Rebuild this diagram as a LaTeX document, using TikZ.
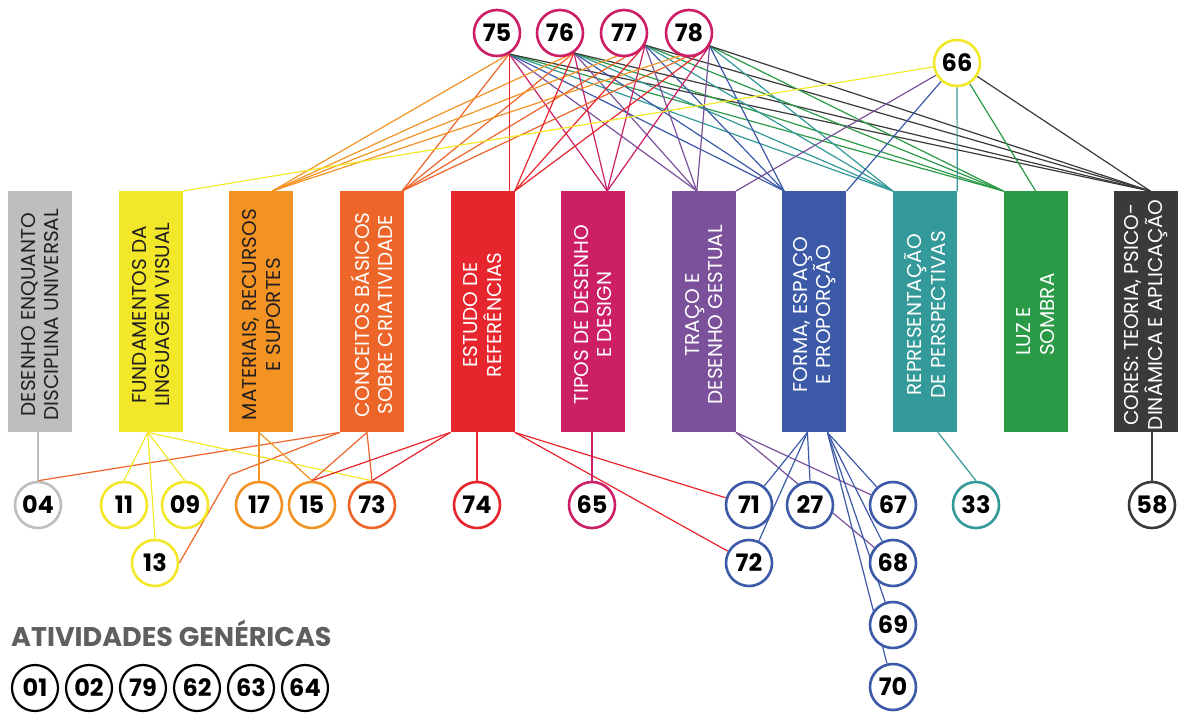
\documentclass[tikz,border=0pt]{standalone}
\usepackage{fontspec}
\setmainfont{Poppins}
\usetikzlibrary{calc}
\pgfdeclarelayer{bg}
\pgfsetlayers{bg,main}

\definecolor{cgray}{HTML}{BCBEC0}
\definecolor{cyel}{HTML}{F2E829}
\definecolor{corg}{HTML}{F39324}
\definecolor{ccon}{HTML}{EE6529}
\definecolor{cred}{HTML}{E7252C}
\definecolor{cmag}{HTML}{CC1F66}
\definecolor{cpur}{HTML}{7B519C}
\definecolor{cblu}{HTML}{3C5AA8}
\definecolor{ctea}{HTML}{339A99}
\definecolor{cgre}{HTML}{2A9A47}
\definecolor{cdrk}{HTML}{3A3A3B}
\definecolor{ctxt}{HTML}{231F20}
\definecolor{clabel}{HTML}{5E5F61}

\tikzset{
  box/.style={minimum width=64pt, minimum height=241pt, inner sep=0pt, anchor=north west},
  boxtext/.style={rotate=90, align=center, inner sep=0pt,
    font=\fontsize{20}{23.5}\selectfont},
  num/.style={circle, draw, line width=2.6pt, fill=white, minimum size=46pt,
    inner sep=0pt, font=\fontsize{24}{24}\bfseries},
  gen/.style={num, draw=black, line width=2.2pt},
  link/.style={line width=1.2pt},
}

\begin{document}
\begin{tikzpicture}[x=1pt, y=-1pt]
\begin{pgfonlayer}{bg}
  \path[use as bounding box, fill=white] (0,0) rectangle (1183,713);
\end{pgfonlayer}

% subject columns
\node[box, fill=cgray] (des) at (8,191) {};
\node[box, fill=cyel]  (fun) at (118.6,191) {};
\node[box, fill=corg]  (mat) at (229.2,191) {};
\node[box, fill=ccon]  (con) at (339.8,191) {};
\node[box, fill=cred]  (est) at (450.4,191) {};
\node[box, fill=cmag]  (tip) at (561,191) {};
\node[box, fill=cpur]  (tra) at (671.6,191) {};
\node[box, fill=cblu]  (frm) at (782.2,191) {};
\node[box, fill=ctea]  (rep) at (892.8,191) {};
\node[box, fill=cgre]  (luz) at (1003.4,191) {};
\node[box, fill=cdrk]  (cor) at (1114,191) {};

\node[boxtext, text=ctxt]  (tdes) at ($(des.center)+(0,3)$) {DESENHO ENQUANTO\\DISCIPLINA UNIVERSAL};
\node[boxtext, text=ctxt]  (tfun) at ($(fun.center)+(0,3)$) {FUNDAMENTOS DA\\LINGUAGEM VISUAL};
\node[boxtext, text=ctxt]  (tmat) at ($(mat.center)+(0,3)$) {MATERIAIS, RECURSOS\\E SUPORTES};
\node[boxtext, text=white] (tcon) at ($(con.center)+(0,3)$) {CONCEITOS BÁSICOS\\SOBRE CRIATIVIDADE};
\node[boxtext, text=white] (test) at ($(est.center)+(0,3)$) {ESTUDO DE\\REFERÊNCIAS};
\node[boxtext, text=white] (ttip) at ($(tip.center)+(0,3)$) {TIPOS DE DESENHO\\E DESIGN};
\node[boxtext, text=white] (ttra) at ($(tra.center)+(0,3)$) {TRAÇO E\\DESENHO GESTUAL};
\node[boxtext, text=white] (tfrm) at ($(frm.center)+(0,3)$) {FORMA, ESPAÇO\\E PROPORÇÃO};
\node[boxtext, text=white] (trep) at ($(rep.center)+(0,3)$) {REPRESENTAÇÃO\\DE PERSPECTIVAS};
\node[boxtext, text=white, align=left] (tluz) at ($(luz.center)+(0,3)$) {LUZ E\\SOMBRA};
\node[boxtext, text=white] (tcor) at ($(cor.center)+(0,3)$) {CORES: TEORIA, PSICO-\\DINÂMICA E APLICAÇÃO};

% activities above the columns
\node[num, draw=cmag] (c75) at (497,33) {75};
\node[num, draw=cmag] (c76) at (560,33) {76};
\node[num, draw=cmag] (c77) at (624,33) {77};
\node[num, draw=cmag] (c78) at (689,33) {78};
\node[num, draw=cyel] (c66) at (957,63) {66};

% activities below the columns
\node[num, draw=cgray] (c04) at (38,505) {04};
\node[num, draw=cyel]  (c11) at (124,505) {11};
\node[num, draw=cyel]  (c09) at (185,505) {09};
\node[num, draw=cyel]  (c13) at (155,563) {13};
\node[num, draw=corg]  (c17) at (259,505) {17};
\node[num, draw=corg]  (c15) at (312,505) {15};
\node[num, draw=ccon]  (c73) at (372,505) {73};
\node[num, draw=cred]  (c74) at (477,505) {74};
\node[num, draw=cmag]  (c65) at (592,505) {65};
\node[num, draw=cblu]  (c71) at (749,505) {71};
\node[num, draw=cblu]  (c72) at (749,563) {72};
\node[num, draw=cblu]  (c27) at (810,505) {27};
\node[num, draw=cblu]  (c67) at (893,505) {67};
\node[num, draw=cblu]  (c68) at (893,563) {68};
\node[num, draw=cblu]  (c69) at (893,625) {69};
\node[num, draw=cblu]  (c70) at (893,687) {70};
\node[num, draw=ctea]  (c33) at (976,505) {33};
\node[num, draw=cdrk]  (c58) at (1152,505) {58};

% generic activities
\node[anchor=base west, inner sep=0pt, text=clabel,
  font=\fontsize{27}{27}\bfseries] (glabel) at (11,646) {ATIVIDADES GENÉRICAS};
\node[gen] (g01) at (35,688)  {01};
\node[gen] (g02) at (89,688)  {02};
\node[gen] (g79) at (143,688) {79};
\node[gen] (g62) at (197,688) {62};
\node[gen] (g63) at (251,688) {63};
\node[gen] (g64) at (305,688) {64};

% connector ends
\coordinate (a75) at (c75.-60);
\coordinate (a76) at (c76.-55);
\coordinate (a77) at (c77.-30);
\coordinate (a78) at (c78.-32);

\coordinate (mat-t) at ($(mat.north)+(11,0)$);
\coordinate (con-t) at ($(con.north east)+(-2,0)$);
\coordinate (est-t) at (est.north east);
\coordinate (tip-t) at ($(tip.north)+(14,0)$);
\coordinate (tra-t) at ($(tra.north)+(-7,0)$);
\coordinate (frm-t) at ($(frm.north west)+(2,0)$);
\coordinate (rep-t) at (rep.north west);
\coordinate (luz-t) at (luz.north west);
\coordinate (cor-t) at ($(cor.north)+(4,0)$);

\coordinate (des-b) at (c04 |- des.south);
\coordinate (fun-b) at ($(fun.south)+(-3,0)$);
\coordinate (mat-b) at (c17 |- mat.south);
\coordinate (con-b) at ($(con.south)+(-5,0)$);
\coordinate (est-b) at (c74 |- est.south);
\coordinate (tip-b) at (c65 |- tip.south);
\coordinate (frm-a) at ($(frm.south)+(-7,0)$);
\coordinate (frm-b) at ($(frm.south)+(13,0)$);
\coordinate (rep-b) at ($(rep.south)+(13,0)$);
\coordinate (cor-b) at (c58 |- cor.south);
\coordinate (bend13) at (230,475);

\begin{pgfonlayer}{bg}
  % upper activities to columns
  \foreach \s in {a75,a76,a77,a78}{
    \draw[link, corg] (\s) -- (mat-t);
    \draw[link, ccon] (\s) -- (con-t);
    \draw[link, cmag] (\s) -- (tip-t);
    \draw[link, cpur] (\s) -- (tra-t);
    \draw[link, cblu] (\s) -- (frm-t);
    \draw[link, ctea] (\s) -- (rep-t);
    \draw[link, cgre] (\s) -- (luz-t);
    \draw[link, cdrk] (\s) -- (cor-t);
  }
  \draw[link, cred] (a75) -- (a75 |- est.north);
  \foreach \s in {a76,a77,a78}{ \draw[link, cred] (\s) -- (est-t); }

  \draw[link, cyel] (c66) -- (fun.north east);
  \draw[link, cpur] (c66) -- (tra.north east);
  \draw[link, cblu] (c66) -- (frm.north east);
  \draw[link, ctea] (c66) -- (rep.north east);
  \draw[link, cgre] (c66) -- (luz.north);
  \draw[link, cdrk] (c66) -- (cor-t);

  % columns to lower activities
  \draw[link, cgray] (des-b) -- (c04.north);
  \draw[link, ccon] (con.south west) -- (c04.north);
  \draw[link, ccon] (con.south west) -- (bend13) -- (c13.east);
  \foreach \t in {c11,c13,c09,c73}{ \draw[link, cyel] (fun-b) -- (\t.north); }
  \draw[link, corg] (mat-b) -- (c17.north);
  \draw[link, corg] (mat-b) -- (c15.north);
  \draw[link, ccon] (con-b) -- (c15.north);
  \draw[link, ccon] (con-b) -- (c73.north);
  \draw[link, cred] (est.south west) -- (c15.north);
  \draw[link, cred] (est.south west) -- (c73.north);
  \draw[link, cred] (est-b) -- (c74.north);
  \draw[link, cred] (est.south east) -- (c71);
  \draw[link, cred] (est.south east) -- (c72);
  \draw[link, cmag] (tip-b) -- (c65.north);
  \draw[link, cpur] (tra.south east) -- (c67);
  \draw[link, cpur] (tra.south east) -- (c68);
  \draw[link, cblu] (frm-a) -- (c71);
  \draw[link, cblu] (frm-a) -- (c72);
  \draw[link, cblu] (frm-a) -- (c27.north);
  \foreach \t in {c67,c68,c69,c70}{ \draw[link, cblu] (frm-b) -- (\t); }
  \draw[link, ctea] (rep-b) -- (c33.north);
  \draw[link, cdrk] (cor-b) -- (c58.north);
\end{pgfonlayer}
\end{tikzpicture}
\end{document}
